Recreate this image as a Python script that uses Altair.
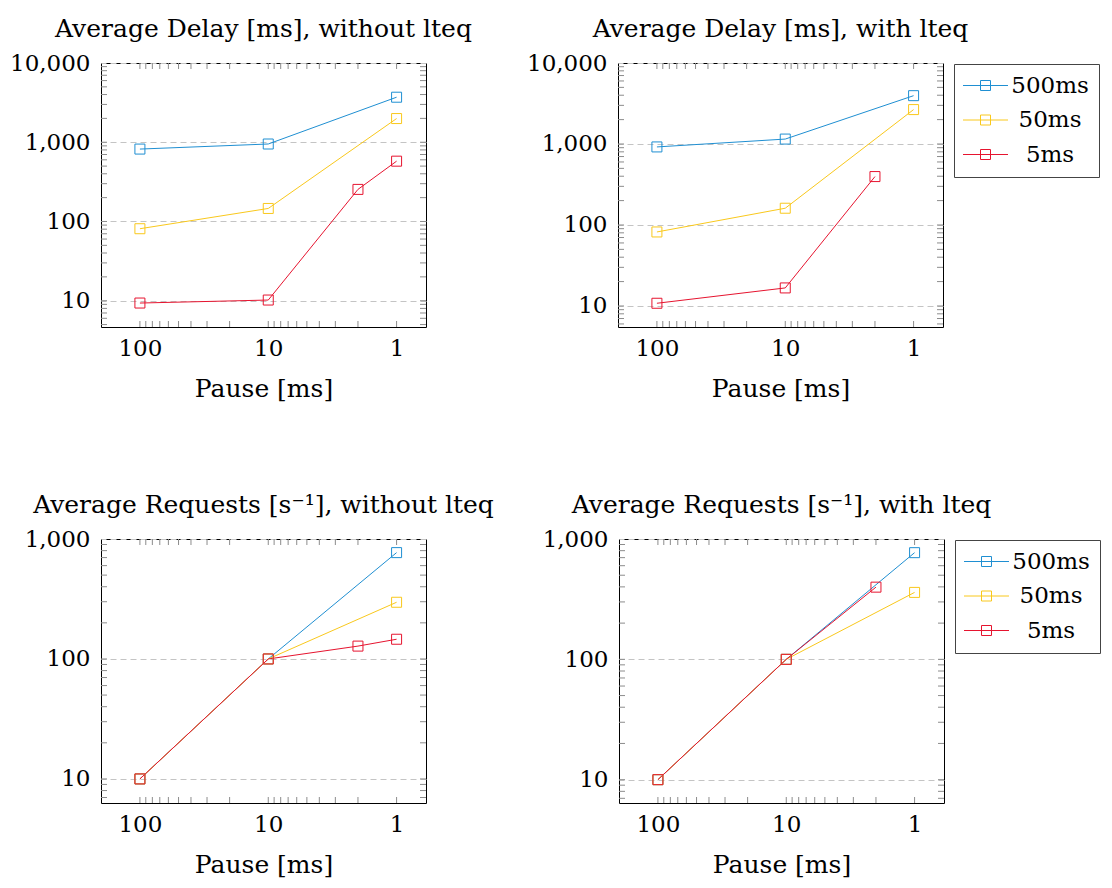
import altair as alt
import pandas as pd

# ---------------- data ----------------
SERIES = ["500ms", "50ms", "5ms"]
COLORS = ["#1f8fd2", "#f9c81c", "#e6142f"]

pause_3 = [100, 10, 1]
pause_4 = [100, 10, 2, 1]
pause_3b = [100, 10, 2]

# Average Delay [ms], without lteq
delay_wo_500 = [820, 950, 3700]
delay_wo_50 = [81, 146, 1990]
delay_wo_5 = [9.35, 10.2, 254, 577]

# Average Delay [ms], with lteq
delay_w_500 = [920, 1150, 3950]
delay_w_50 = [82, 161, 2660]
delay_w_5 = [10.8, 16.7, 396]

# Average Requests [s^-1], without lteq
req_wo_500 = [10, 100, 770]
req_wo_50 = [10, 100, 297]
req_wo_5 = [10, 100, 128, 146]

# Average Requests [s^-1], with lteq
req_w_500 = [10, 100, 770]
req_w_50 = [10, 100, 360]
req_w_5 = [10, 100, 398]

# tick labels / tick positions
x_labels = [1, 10, 100]
x_ticks = [1, 2, 3, 4, 5, 6, 7, 8, 9, 10, 20, 30, 40, 50, 60, 70, 80, 90, 100]
y_labels_delay = [10, 100, 1000, 10000]
y_labels_req = [10, 100, 1000]
y_ticks_delay = [5, 6, 7, 8, 9, 10, 20, 30, 40, 50, 60, 70, 80, 90, 100,
                 200, 300, 400, 500, 600, 700, 800, 900, 1000,
                 2000, 3000, 4000, 5000, 6000, 7000, 8000, 9000]
y_ticks_req = [7, 8, 9, 10, 20, 30, 40, 50, 60, 70, 80, 90, 100,
               200, 300, 400, 500, 600, 700, 800, 900]

# ---------------- style ----------------
W, H = 325, 264
FONT = "DejaVu Serif"
FS_LAB = 23
FS_TXT = 25
FS_LEG = 23
TICK = 6
TICK_COLOR = "#8c8c8c"
LEG_PATH = "M-2.25,0H2.25M-0.5,-0.5H0.5V0.5H-0.5Z"


def build_df(pairs):
    rows = []
    for name, xs, ys in pairs:
        for xv, yv in zip(xs, ys):
            rows.append({"pause": xv, "value": yv, "series": name})
    return pd.DataFrame(rows)


def panel(pairs, title, ydom, ylabels, yticks, legend):
    df = build_df(pairs)
    xenc = alt.X(
        "pause:Q",
        scale=alt.Scale(type="log", domain=[0.59, 201], reverse=True, nice=False, zero=False),
        axis=alt.Axis(values=x_labels, format="d", title="Pause [ms]", grid=False,
                      ticks=False, tickSize=0, domain=False, labelPadding=10,
                      titlePadding=16, labelFont=FONT, labelFontSize=FS_LAB,
                      titleFont=FONT, titleFontSize=FS_TXT, titleFontWeight="normal",
                      labelColor="black", titleColor="black", labelFlush=False),
    )
    yenc = alt.Y(
        "value:Q",
        scale=alt.Scale(type="log", domain=ydom, nice=False, zero=False),
        axis=alt.Axis(values=ylabels, format=",d", title=None, grid=True,
                      gridDash=[6, 4], gridColor="#c4c4c4", gridWidth=1,
                      ticks=False, tickSize=0, domain=False, labelPadding=11,
                      labelFont=FONT, labelFontSize=FS_LAB, labelColor="black",
                      labelFlush=False),
    )
    if legend:
        leg = alt.Legend(
            title=None, orient="none", legendX=336, legendY=1,
            symbolType=LEG_PATH, symbolSize=400, symbolStrokeWidth=1,
            symbolFillColor="transparent", symbolOffset=10,
            labelFont=FONT, labelFontSize=FS_LEG, labelColor="black",
            labelAlign="center", labelOffset=53, rowPadding=10.5,
            padding=10, strokeColor="#444444", fillColor="white",
        )
    else:
        leg = None
    cenc = alt.Color("series:N", scale=alt.Scale(domain=SERIES, range=COLORS),
                     sort=SERIES, legend=leg)

    xt = pd.DataFrame({"pause": x_ticks})
    yt = pd.DataFrame({"value": yticks})

    xt_bottom = alt.Chart(xt).mark_rule(color=TICK_COLOR, strokeWidth=1).encode(
        x=xenc, y=alt.value(H - TICK), y2=alt.value(H))
    xt_top = alt.Chart(xt).mark_rule(color=TICK_COLOR, strokeWidth=1).encode(
        x=xenc, y=alt.value(0), y2=alt.value(TICK))
    yt_left = alt.Chart(yt).mark_rule(color=TICK_COLOR, strokeWidth=1).encode(
        y=yenc, x=alt.value(0), x2=alt.value(TICK))
    yt_right = alt.Chart(yt).mark_rule(color=TICK_COLOR, strokeWidth=1).encode(
        y=yenc, x=alt.value(W - TICK), x2=alt.value(W))

    lines = alt.Chart(df).mark_line(strokeWidth=1).encode(
        x=xenc, y=yenc, color=cenc, order=alt.Order("pause:Q", sort="descending"))
    points = alt.Chart(df).mark_point(shape="square", filled=False, size=100,
                                       strokeWidth=1, opacity=1).encode(
        x=xenc, y=yenc, color=cenc)

    return alt.layer(xt_bottom, xt_top, yt_left, yt_right, lines, points).properties(
        width=W, height=H,
        title=alt.TitleParams(title, font=FONT, fontSize=FS_TXT, fontWeight="normal",
                              color="black", frame="group", anchor="middle", offset=10),
    )


p1 = panel([("500ms", pause_3, delay_wo_500), ("50ms", pause_3, delay_wo_50),
            ("5ms", pause_4, delay_wo_5)],
           "Average Delay [ms], without lteq", [4.66, 10000], y_labels_delay,
           y_ticks_delay, False)
p2 = panel([("500ms", pause_3, delay_w_500), ("50ms", pause_3, delay_w_50),
            ("5ms", pause_3b, delay_w_5)],
           "Average Delay [ms], with lteq", [5.5, 10000], y_labels_delay,
           y_ticks_delay[1:], True)
p3 = panel([("500ms", pause_3, req_wo_500), ("50ms", pause_3, req_wo_50),
            ("5ms", pause_4, req_wo_5)],
           "Average Requests [s\u207b\u00b9], without lteq", [6.3, 1000], y_labels_req,
           y_ticks_req, False)
p4 = panel([("500ms", pause_3, req_w_500), ("50ms", pause_3, req_w_50),
            ("5ms", pause_3b, req_w_5)],
           "Average Requests [s\u207b\u00b9], with lteq", [6.4, 1000], y_labels_req,
           y_ticks_req, True)

res = dict(x="independent", y="independent", color="independent")
top = alt.hconcat(p1, p2, spacing=53).resolve_scale(**res).resolve_legend(color="independent")
bottom = alt.hconcat(p3, p4, spacing=46).resolve_scale(**res).resolve_legend(color="independent")

chart = alt.vconcat(top, bottom, spacing=90).resolve_scale(**res).resolve_legend(
    color="independent"
).properties(
    padding={"left": 1, "top": 8, "right": 0, "bottom": 0}
).configure_view(stroke="black", strokeWidth=1)

chart.save("out.html", embed_options={"renderer": "svg", "actions": False})
